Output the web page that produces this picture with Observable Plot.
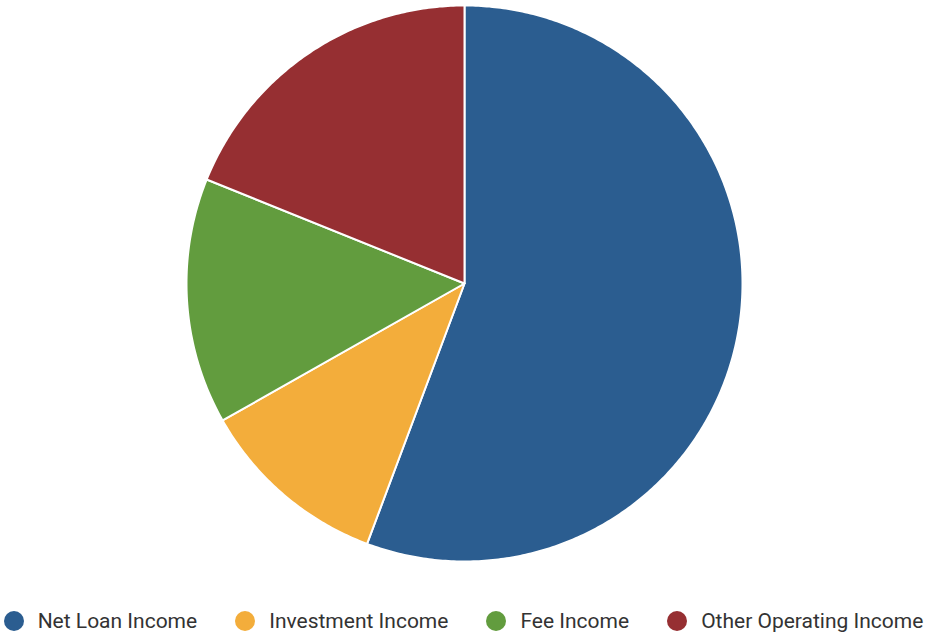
<!DOCTYPE html>
<html>
<head>
<meta charset="utf-8">
<script src="https://cdn.jsdelivr.net/npm/d3@7"></script>
<script src="https://cdn.jsdelivr.net/npm/@observablehq/plot@0.6"></script>
<style>
  html, body { margin: 0; padding: 0; background: #fff; }
  #legend { display: flex; justify-content: center; align-items: center; font-family: Roboto, "Noto Sans", sans-serif; font-size: 21px; color: #333; height: 26px; margin-top: 4px; }
  .item { display: flex; align-items: center; margin: 0 19px; white-space: nowrap; }
  .dot { width: 20px; height: 20px; border-radius: 50%; margin-right: 14px; }
</style>
</head>
<body>
<div id="chart"></div>
<div id="legend"></div>
<script>
const categories = ["Net Loan Income", "Investment Income", "Fee Income", "Other Operating Income"];
const values = [55.7, 11.1, 14.3, 18.9];
const colors = ["#2b5d90", "#f3ad3b", "#629c3e", "#962f32"];

const data = categories.map((name, i) => ({name, value: values[i]}));
const arcs = d3.pie().sort(null).value(d => d.value)(data);

// build polygon points for each slice from pie angles
const pts = [];
for (const a of arcs) {
  const name = a.data.name;
  pts.push({name, x: 0, y: 0});
  const n = Math.max(2, Math.ceil((a.endAngle - a.startAngle) / 0.01));
  for (let k = 0; k <= n; k++) {
    const t = a.startAngle + (a.endAngle - a.startAngle) * k / n;
    pts.push({name, x: Math.sin(t), y: Math.cos(t)});
  }
  pts.push({name, x: 0, y: 0});
}

const chart = Plot.plot({
  width: 927,
  height: 604,
  marginLeft: 186,
  marginRight: 185,
  marginTop: 5,
  marginBottom: 43,
  x: {domain: [-1, 1], axis: null},
  y: {domain: [-1, 1], axis: null},
  color: {domain: categories, range: colors},
  marks: [
    Plot.line(pts, {x: "x", y: "y", z: "name", fill: "name", stroke: "white", strokeWidth: 2, curve: "linear"})
  ]
});
document.getElementById("chart").appendChild(chart);

const legend = document.getElementById("legend");
categories.forEach((c, i) => {
  const item = document.createElement("div");
  item.className = "item";
  const dot = document.createElement("span");
  dot.className = "dot";
  dot.style.background = colors[i];
  const label = document.createElement("span");
  label.textContent = c;
  item.appendChild(dot);
  item.appendChild(label);
  legend.appendChild(item);
});
</script>
</body>
</html>
